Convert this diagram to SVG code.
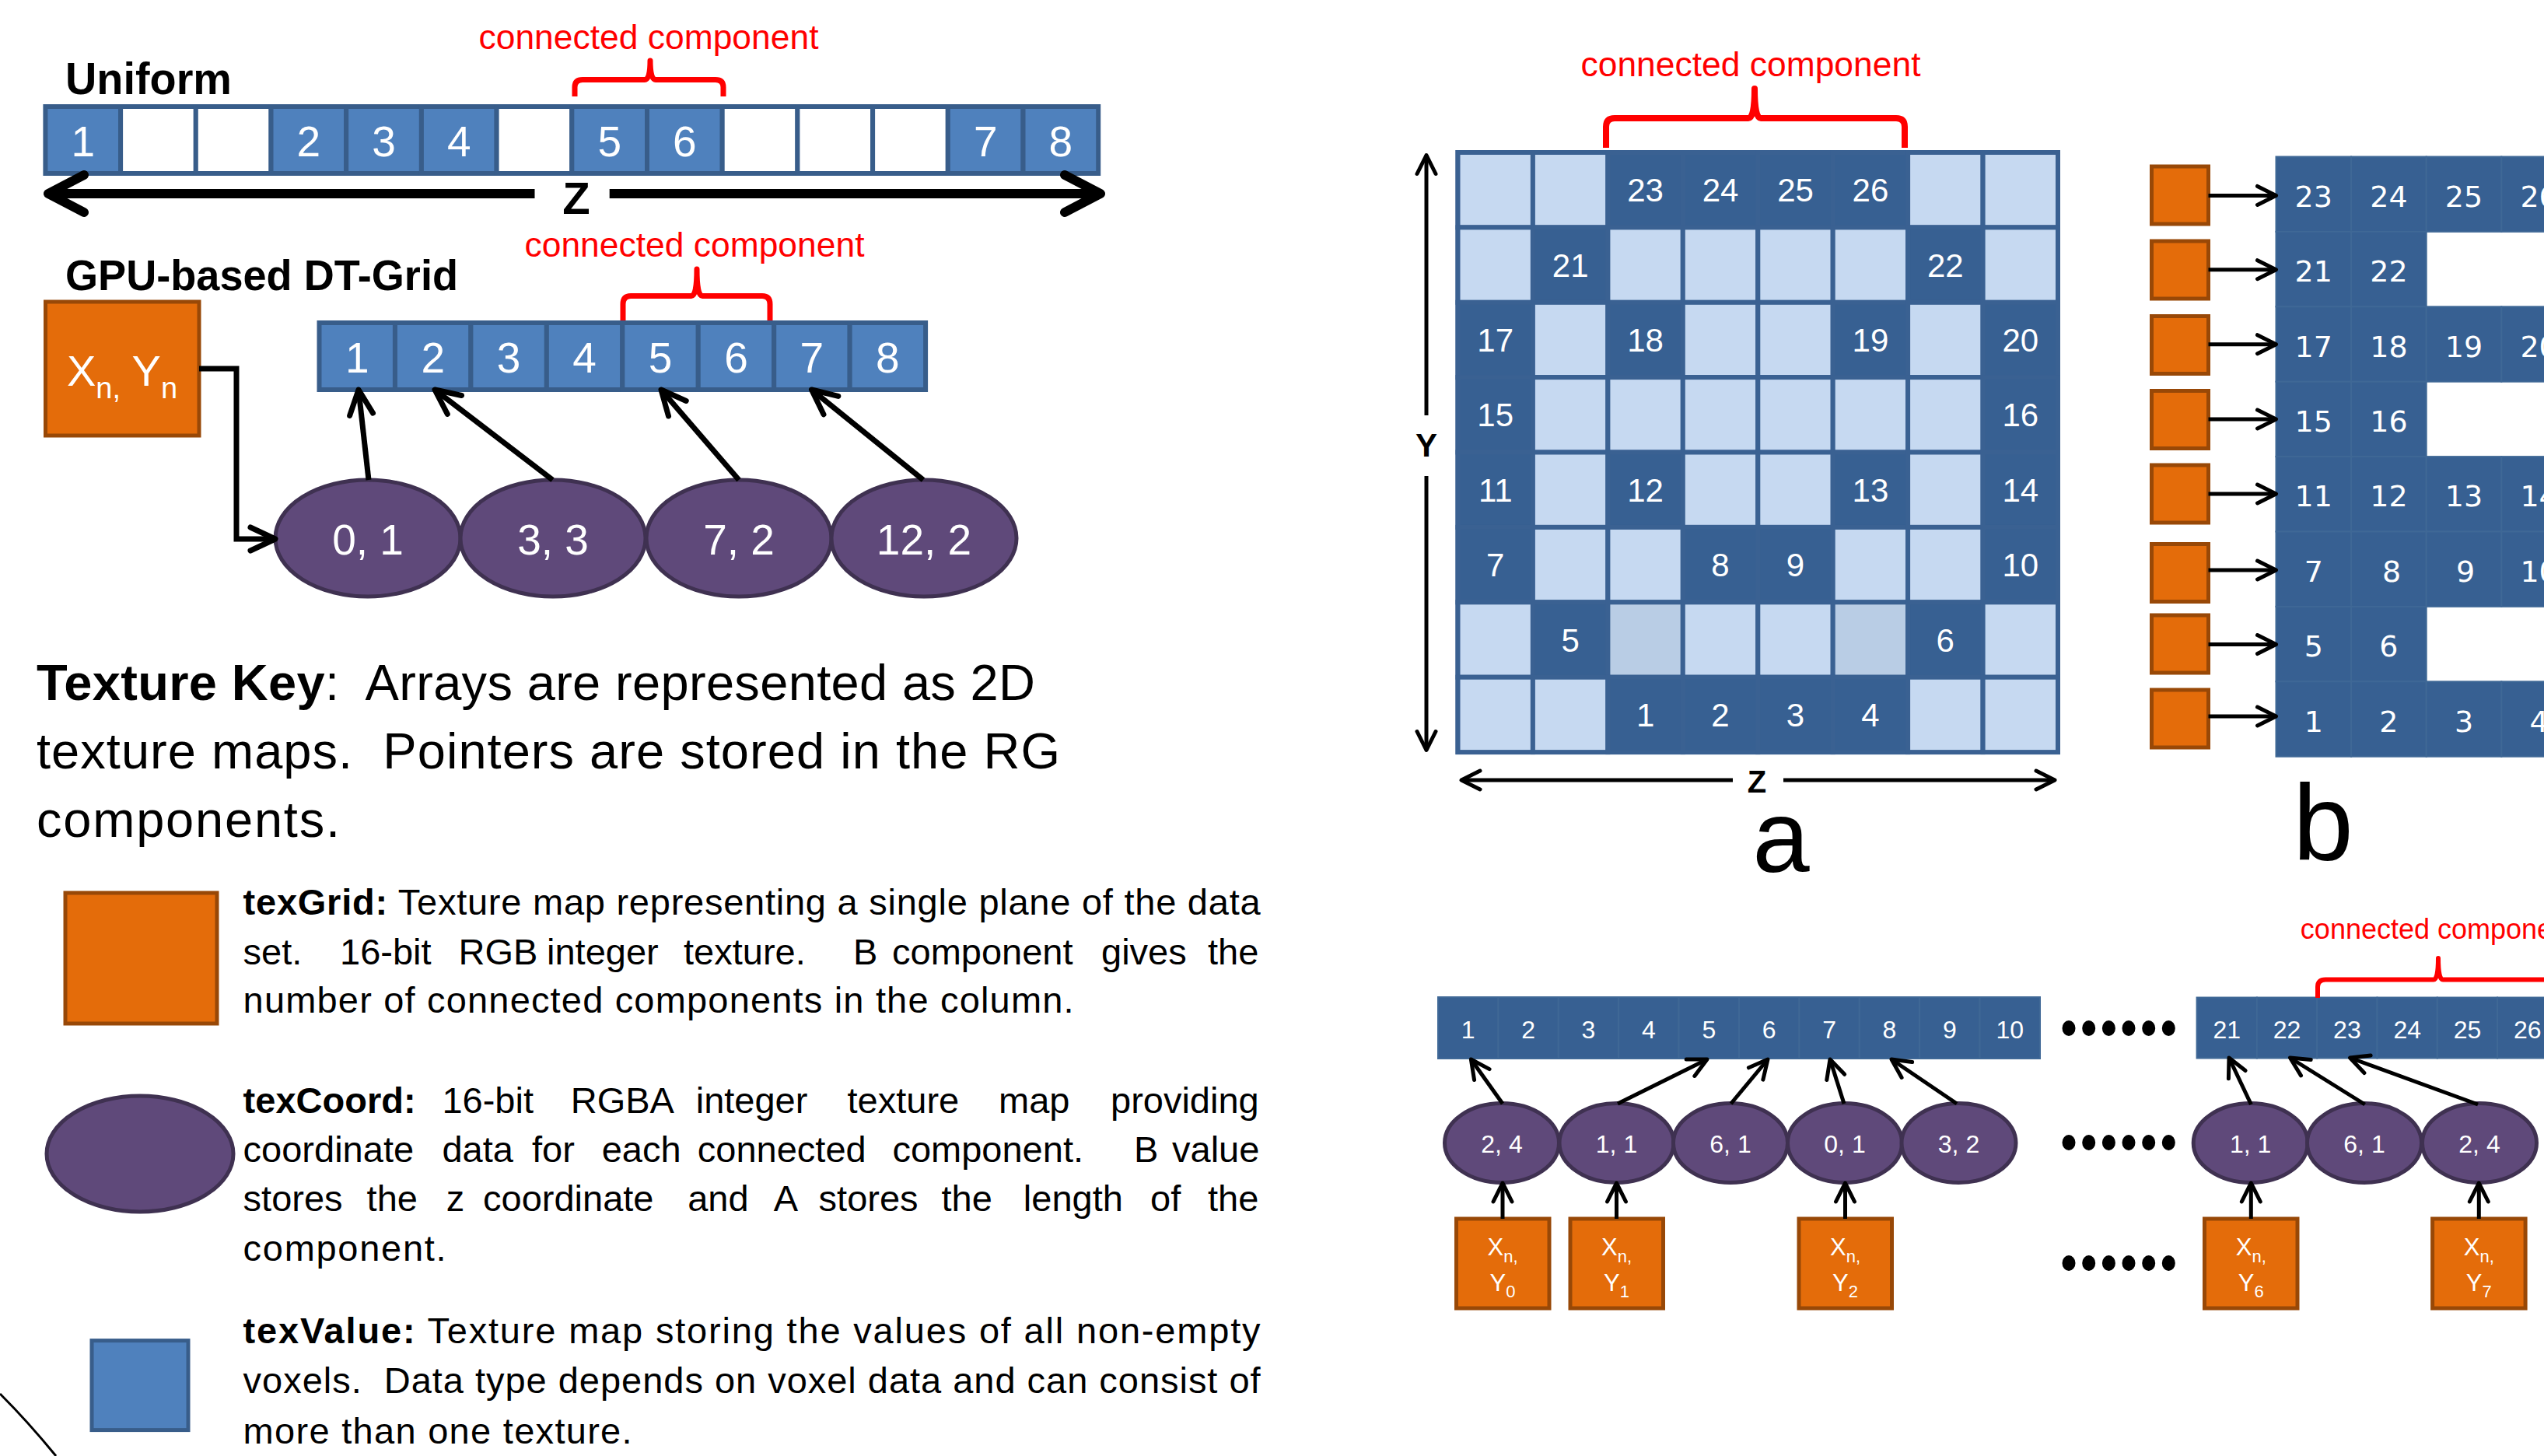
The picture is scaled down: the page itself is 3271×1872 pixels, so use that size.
<svg xmlns="http://www.w3.org/2000/svg" width="3271" height="1872" viewBox="0 0 3271 1872">
<defs>
<style>
text{font-family:'Liberation Sans',Arial,sans-serif}
.c{fill:#4F81BD;stroke:#385D8A;stroke-width:6}
.w{fill:#FFFFFF;stroke:#385D8A;stroke-width:6}
.gd{fill:#376092;stroke:#3A6192;stroke-width:6}
.gl{fill:#C6D9F1;stroke:#3A6192;stroke-width:6}
.gm{fill:#B9CDE5;stroke:#3A6192;stroke-width:6}
.dk{fill:#376092;stroke:#3F6896;stroke-width:2}
.or{fill:#E46C0A;stroke:#984807;stroke-width:5}
.pu{fill:#5F497A;stroke:#3F3151;stroke-width:5}
.br{fill:none;stroke:#FF0000;stroke-width:7;stroke-linejoin:round}
.rt{fill:#FF0000;text-anchor:middle}
.wt{fill:#FFFFFF;text-anchor:middle}
.bt{fill:#000000;text-anchor:middle;font-weight:bold}
.dv{font-family:'DejaVu Sans',sans-serif;fill:#FFFFFF;text-anchor:middle;font-size:38px}
.l7{fill:none;stroke:#000;stroke-width:7;marker-end:url(#m7)}
.l5{fill:none;stroke:#000;stroke-width:5;marker-end:url(#m5)}
.l12{fill:none;stroke:#000;stroke-width:12;marker-end:url(#m12)}
.tx{fill:#000000;font-size:47px}
</style>
<marker id="m7" markerUnits="userSpaceOnUse" orient="auto" overflow="visible" markerWidth="10" markerHeight="10"><path d="M-32,-15 L0,0 L-32,15" fill="none" stroke="#000" stroke-width="7" stroke-linecap="round" stroke-linejoin="round"/></marker>
<marker id="m5" markerUnits="userSpaceOnUse" orient="auto" overflow="visible" markerWidth="10" markerHeight="10"><path d="M-24,-12 L0,0 L-24,12" fill="none" stroke="#000" stroke-width="5" stroke-linecap="round" stroke-linejoin="round"/></marker>
<marker id="m12" markerUnits="userSpaceOnUse" orient="auto" overflow="visible" markerWidth="10" markerHeight="10"><path d="M-46,-24 L0,0 L-46,24" fill="none" stroke="#000" stroke-width="12" stroke-linecap="round" stroke-linejoin="round"/></marker>
</defs>
<rect x="0" y="0" width="3271" height="1872" fill="#FFFFFF"/>

<!-- ===== Uniform ===== -->
<text x="84" y="121" font-size="57" font-weight="bold" textLength="214" lengthAdjust="spacingAndGlyphs">Uniform</text>
<g id="uniform-bar">
<rect class="c" x="58.4" y="137" width="96.7" height="86"/>
<rect class="w" x="155.1" y="137" width="96.7" height="86"/>
<rect class="w" x="251.8" y="137" width="96.7" height="86"/>
<rect class="c" x="348.5" y="137" width="96.7" height="86"/>
<rect class="c" x="445.2" y="137" width="96.7" height="86"/>
<rect class="c" x="541.9" y="137" width="96.7" height="86"/>
<rect class="w" x="638.6" y="137" width="96.7" height="86"/>
<rect class="c" x="735.3" y="137" width="96.7" height="86"/>
<rect class="c" x="832" y="137" width="96.7" height="86"/>
<rect class="w" x="928.7" y="137" width="96.7" height="86"/>
<rect class="w" x="1025.4" y="137" width="96.7" height="86"/>
<rect class="w" x="1122.1" y="137" width="96.7" height="86"/>
<rect class="c" x="1218.8" y="137" width="96.7" height="86"/>
<rect class="c" x="1315.5" y="137" width="96.7" height="86"/>
<g font-size="55">
<text class="wt" x="106.8" y="201">1</text>
<text class="wt" x="396.9" y="201">2</text>
<text class="wt" x="493.6" y="201">3</text>
<text class="wt" x="590.3" y="201">4</text>
<text class="wt" x="783.7" y="201">5</text>
<text class="wt" x="880.4" y="201">6</text>
<text class="wt" x="1267.2" y="201">7</text>
<text class="wt" x="1363.9" y="201">8</text>
</g>
</g>
<g id="uniform-component">
<text class="rt" x="834" y="63" font-size="44" textLength="437" lengthAdjust="spacingAndGlyphs">connected component</text>
<path class="br" d="M739,124 V112 Q739,102.5 749,102.5 H829 Q836,102.5 836,78 Q836,102.5 843,102.5 H920 Q930,102.5 930,112 V124"/>
</g>
<g id="uniform-z-axis">
<path class="l12" d="M687.5,249 H62"/>
<path class="l12" d="M783.7,249 H1415"/>
<text class="bt" x="741" y="275" font-size="58">Z</text>
</g>

<!-- ===== GPU-based DT-Grid ===== -->
<text x="84" y="373" font-size="55" font-weight="bold" textLength="505" lengthAdjust="spacingAndGlyphs">GPU-based DT-Grid</text>
<g id="gpu-bar">
<rect class="c" x="410.5" y="415" width="97.45" height="86"/>
<rect class="c" x="507.95" y="415" width="97.45" height="86"/>
<rect class="c" x="605.4" y="415" width="97.45" height="86"/>
<rect class="c" x="702.85" y="415" width="97.45" height="86"/>
<rect class="c" x="800.3" y="415" width="97.45" height="86"/>
<rect class="c" x="897.75" y="415" width="97.45" height="86"/>
<rect class="c" x="995.2" y="415" width="97.45" height="86"/>
<rect class="c" x="1092.65" y="415" width="97.45" height="86"/>
<g font-size="55">
<text class="wt" x="459.2" y="479">1</text>
<text class="wt" x="556.7" y="479">2</text>
<text class="wt" x="654.1" y="479">3</text>
<text class="wt" x="751.6" y="479">4</text>
<text class="wt" x="849" y="479">5</text>
<text class="wt" x="946.5" y="479">6</text>
<text class="wt" x="1043.9" y="479">7</text>
<text class="wt" x="1141.4" y="479">8</text>
</g>
</g>
<g id="gpu-component">
<text class="rt" x="893" y="330" font-size="44" textLength="437" lengthAdjust="spacingAndGlyphs">connected component</text>
<path class="br" d="M801,412 V391 Q801,380.5 811,380.5 H889 Q896,380.5 896,346 Q896,380.5 903,380.5 H980 Q990,380.5 990,391 V412"/>
</g>
<g id="gpu-grid-cell">
<rect class="or" x="58.5" y="388" width="197.5" height="172"/>
<text class="wt" x="157" y="496" font-size="56">X<tspan font-size="38" dy="16">n,</tspan><tspan dy="-16"> Y</tspan><tspan font-size="38" dy="16">n</tspan></text>
</g>
<g id="coord-0-1"><ellipse class="pu" cx="473" cy="692" rx="119" ry="75"/><text class="wt" x="473" y="713" font-size="55">0, 1</text></g>
<g id="coord-3-3"><ellipse class="pu" cx="711" cy="692" rx="119" ry="75"/><text class="wt" x="711" y="713" font-size="55">3, 3</text></g>
<g id="coord-7-2"><ellipse class="pu" cx="950" cy="692" rx="119" ry="75"/><text class="wt" x="950" y="713" font-size="55">7, 2</text></g>
<g id="coord-12-2"><ellipse class="pu" cx="1188" cy="692" rx="119" ry="75"/><text class="wt" x="1188" y="713" font-size="55">12, 2</text></g>

<!-- ===== Texture key ===== -->
<g id="texture-key">
<text x="47" y="900" font-size="65" textLength="1284" lengthAdjust="spacing" xml:space="preserve"><tspan font-weight="bold">Texture Key</tspan>:  Arrays are represented as 2D</text>
<text x="47" y="987.5" font-size="65" textLength="1316" lengthAdjust="spacing" xml:space="preserve">texture maps.  Pointers are stored in the RG</text>
<text x="47" y="1076" font-size="65" textLength="390" lengthAdjust="spacing">components.</text>
</g>
<g id="key-texgrid">
<rect class="or" x="84" y="1148" width="195" height="168"/>
<text class="tx" x="312.6" y="1175.5" textLength="1308" lengthAdjust="spacing"><tspan font-weight="bold">texGrid:</tspan> Texture map representing a single plane of the data</text>
<text class="tx" y="1239.6"><tspan x="312.6">set.</tspan><tspan x="437">16-bit</tspan><tspan x="589.5">RGB</tspan><tspan x="703">integer</tspan><tspan x="879">texture.</tspan><tspan x="1097">B</tspan><tspan x="1147">component</tspan><tspan x="1416">gives</tspan><tspan x="1553">the</tspan></text>
<text class="tx" x="312.6" y="1302" textLength="1068" lengthAdjust="spacing">number of connected components in the column.</text>
</g>
<g id="key-texcoord">
<ellipse class="pu" cx="180" cy="1483.5" rx="120" ry="74.5"/>
<text class="tx" y="1431"><tspan x="312.6" font-weight="bold">texCoord:</tspan><tspan x="568.4">16-bit</tspan><tspan x="733.7">RGBA</tspan><tspan x="894.7">integer</tspan><tspan x="1089.5">texture</tspan><tspan x="1284">map</tspan><tspan x="1428">providing</tspan></text>
<text class="tx" y="1494"><tspan x="312.6">coordinate</tspan><tspan x="568.4">data</tspan><tspan x="684">for</tspan><tspan x="773.7">each</tspan><tspan x="896.8">connected</tspan><tspan x="1147.4">component.</tspan><tspan x="1457.9">B</tspan><tspan x="1507">value</tspan></text>
<text class="tx" y="1556.5"><tspan x="312.6">stores</tspan><tspan x="471.6">the</tspan><tspan x="573.7">z</tspan><tspan x="621">coordinate</tspan><tspan x="884.2">and</tspan><tspan x="994.7">A</tspan><tspan x="1052.6">stores</tspan><tspan x="1210.5">the</tspan><tspan x="1315.8">length</tspan><tspan x="1479">of</tspan><tspan x="1553">the</tspan></text>
<text class="tx" x="312.6" y="1620.5" textLength="261" lengthAdjust="spacing">component.</text>
</g>
<g id="key-texvalue">
<rect class="c" x="118" y="1723.6" width="124" height="115" style="stroke-width:5"/>
<text class="tx" x="312.6" y="1727" textLength="1308" lengthAdjust="spacing"><tspan font-weight="bold">texValue:</tspan> Texture map storing the values of all non-empty</text>
<text class="tx" x="312.6" y="1791" textLength="1308" lengthAdjust="spacing" xml:space="preserve">voxels.  Data type depends on voxel data and can consist of</text>
<text class="tx" x="312.6" y="1856" textLength="500" lengthAdjust="spacing">more than one texture.</text>
</g>
<path d="M0,1792 Q36,1828 72,1872" fill="none" stroke="#000" stroke-width="3"/>

<!-- ===== Grid a ===== -->
<g id="grid-a">
<rect x="1874.5" y="196" width="771.5" height="771" fill="#376092" stroke="#385D8A" stroke-width="6"/>
<rect class="gl" x="1874.5" y="196" width="96.4" height="96.4"/>
<rect class="gl" x="1970.9" y="196" width="96.4" height="96.4"/>
<rect class="gd" x="2067.4" y="196" width="96.4" height="96.4"/>
<rect class="gd" x="2163.8" y="196" width="96.4" height="96.4"/>
<rect class="gd" x="2260.3" y="196" width="96.4" height="96.4"/>
<rect class="gd" x="2356.7" y="196" width="96.4" height="96.4"/>
<rect class="gl" x="2453.1" y="196" width="96.4" height="96.4"/>
<rect class="gl" x="2549.6" y="196" width="96.4" height="96.4"/>
<rect class="gl" x="1874.5" y="292.4" width="96.4" height="96.4"/>
<rect class="gd" x="1970.9" y="292.4" width="96.4" height="96.4"/>
<rect class="gl" x="2067.4" y="292.4" width="96.4" height="96.4"/>
<rect class="gl" x="2163.8" y="292.4" width="96.4" height="96.4"/>
<rect class="gl" x="2260.3" y="292.4" width="96.4" height="96.4"/>
<rect class="gl" x="2356.7" y="292.4" width="96.4" height="96.4"/>
<rect class="gd" x="2453.1" y="292.4" width="96.4" height="96.4"/>
<rect class="gl" x="2549.6" y="292.4" width="96.4" height="96.4"/>
<rect class="gd" x="1874.5" y="388.8" width="96.4" height="96.4"/>
<rect class="gl" x="1970.9" y="388.8" width="96.4" height="96.4"/>
<rect class="gd" x="2067.4" y="388.8" width="96.4" height="96.4"/>
<rect class="gl" x="2163.8" y="388.8" width="96.4" height="96.4"/>
<rect class="gl" x="2260.3" y="388.8" width="96.4" height="96.4"/>
<rect class="gd" x="2356.7" y="388.8" width="96.4" height="96.4"/>
<rect class="gl" x="2453.1" y="388.8" width="96.4" height="96.4"/>
<rect class="gd" x="2549.6" y="388.8" width="96.4" height="96.4"/>
<rect class="gd" x="1874.5" y="485.1" width="96.4" height="96.4"/>
<rect class="gl" x="1970.9" y="485.1" width="96.4" height="96.4"/>
<rect class="gl" x="2067.4" y="485.1" width="96.4" height="96.4"/>
<rect class="gl" x="2163.8" y="485.1" width="96.4" height="96.4"/>
<rect class="gl" x="2260.3" y="485.1" width="96.4" height="96.4"/>
<rect class="gl" x="2356.7" y="485.1" width="96.4" height="96.4"/>
<rect class="gl" x="2453.1" y="485.1" width="96.4" height="96.4"/>
<rect class="gd" x="2549.6" y="485.1" width="96.4" height="96.4"/>
<rect class="gd" x="1874.5" y="581.5" width="96.4" height="96.4"/>
<rect class="gl" x="1970.9" y="581.5" width="96.4" height="96.4"/>
<rect class="gd" x="2067.4" y="581.5" width="96.4" height="96.4"/>
<rect class="gl" x="2163.8" y="581.5" width="96.4" height="96.4"/>
<rect class="gl" x="2260.3" y="581.5" width="96.4" height="96.4"/>
<rect class="gd" x="2356.7" y="581.5" width="96.4" height="96.4"/>
<rect class="gl" x="2453.1" y="581.5" width="96.4" height="96.4"/>
<rect class="gd" x="2549.6" y="581.5" width="96.4" height="96.4"/>
<rect class="gd" x="1874.5" y="677.9" width="96.4" height="96.4"/>
<rect class="gl" x="1970.9" y="677.9" width="96.4" height="96.4"/>
<rect class="gl" x="2067.4" y="677.9" width="96.4" height="96.4"/>
<rect class="gd" x="2163.8" y="677.9" width="96.4" height="96.4"/>
<rect class="gd" x="2260.3" y="677.9" width="96.4" height="96.4"/>
<rect class="gl" x="2356.7" y="677.9" width="96.4" height="96.4"/>
<rect class="gl" x="2453.1" y="677.9" width="96.4" height="96.4"/>
<rect class="gd" x="2549.6" y="677.9" width="96.4" height="96.4"/>
<rect class="gl" x="1874.5" y="774.3" width="96.4" height="96.4"/>
<rect class="gd" x="1970.9" y="774.3" width="96.4" height="96.4"/>
<rect class="gm" x="2067.4" y="774.3" width="96.4" height="96.4"/>
<rect class="gl" x="2163.8" y="774.3" width="96.4" height="96.4"/>
<rect class="gl" x="2260.3" y="774.3" width="96.4" height="96.4"/>
<rect class="gm" x="2356.7" y="774.3" width="96.4" height="96.4"/>
<rect class="gd" x="2453.1" y="774.3" width="96.4" height="96.4"/>
<rect class="gl" x="2549.6" y="774.3" width="96.4" height="96.4"/>
<rect class="gl" x="1874.5" y="870.7" width="96.4" height="96.4"/>
<rect class="gl" x="1970.9" y="870.7" width="96.4" height="96.4"/>
<rect class="gd" x="2067.4" y="870.7" width="96.4" height="96.4"/>
<rect class="gd" x="2163.8" y="870.7" width="96.4" height="96.4"/>
<rect class="gd" x="2260.3" y="870.7" width="96.4" height="96.4"/>
<rect class="gd" x="2356.7" y="870.7" width="96.4" height="96.4"/>
<rect class="gl" x="2453.1" y="870.7" width="96.4" height="96.4"/>
<rect class="gl" x="2549.6" y="870.7" width="96.4" height="96.4"/>
<g font-size="42">
<text class="wt" x="2115.6" y="259">23</text><text class="wt" x="2212" y="259">24</text><text class="wt" x="2308.5" y="259">25</text><text class="wt" x="2404.9" y="259">26</text>
<text class="wt" x="2019.2" y="356">21</text><text class="wt" x="2501.3" y="356">22</text>
<text class="wt" x="1922.7" y="452">17</text><text class="wt" x="2115.6" y="452">18</text><text class="wt" x="2404.9" y="452">19</text><text class="wt" x="2597.8" y="452">20</text>
<text class="wt" x="1922.7" y="548">15</text><text class="wt" x="2597.8" y="548">16</text>
<text class="wt" x="1922.7" y="645">11</text><text class="wt" x="2115.6" y="645">12</text><text class="wt" x="2404.9" y="645">13</text><text class="wt" x="2597.8" y="645">14</text>
<text class="wt" x="1922.7" y="741">7</text><text class="wt" x="2212" y="741">8</text><text class="wt" x="2308.5" y="741">9</text><text class="wt" x="2597.8" y="741">10</text>
<text class="wt" x="2019.2" y="838">5</text><text class="wt" x="2501.3" y="838">6</text>
<text class="wt" x="2115.6" y="934">1</text><text class="wt" x="2212" y="934">2</text><text class="wt" x="2308.5" y="934">3</text><text class="wt" x="2404.9" y="934">4</text>
</g>
</g>
<g id="grid-a-component">
<text class="rt" x="2251" y="97.5" font-size="44" textLength="437" lengthAdjust="spacingAndGlyphs">connected component</text>
<path class="br" style="stroke-width:8" d="M2065,190 V163 Q2065,152 2076,152 H2248 Q2256,152 2256,114 Q2256,152 2264,152 H2438 Q2449,152 2449,163 V190"/>
</g>
<g id="grid-a-axes">
<path class="l5" d="M1834,534 V199.5"/>
<path class="l5" d="M1834,612 V964.5"/>
<text class="bt" x="1834" y="587" font-size="42">Y</text>
<path class="l5" d="M2228,1003 H1879"/>
<path class="l5" d="M2293,1003 H2642"/>
<text class="bt" x="2259" y="1019" font-size="40">Z</text>
</g>
<text x="2290" y="1121" font-size="132" text-anchor="middle">a</text>

<!-- ===== Panel b ===== -->
<g id="panel-b">
<rect class="dk" x="2926.5" y="201.5" width="96.6" height="96.4"/><rect class="dk" x="3023.1" y="201.5" width="96.6" height="96.4"/><rect class="dk" x="3119.7" y="201.5" width="96.6" height="96.4"/><rect class="dk" x="3216.3" y="201.5" width="96.6" height="96.4"/>
<rect class="dk" x="2926.5" y="297.9" width="96.6" height="96.4"/><rect class="dk" x="3023.1" y="297.9" width="96.6" height="96.4"/>
<rect class="dk" x="2926.5" y="394.3" width="96.6" height="96.4"/><rect class="dk" x="3023.1" y="394.3" width="96.6" height="96.4"/><rect class="dk" x="3119.7" y="394.3" width="96.6" height="96.4"/><rect class="dk" x="3216.3" y="394.3" width="96.6" height="96.4"/>
<rect class="dk" x="2926.5" y="490.7" width="96.6" height="96.4"/><rect class="dk" x="3023.1" y="490.7" width="96.6" height="96.4"/>
<rect class="dk" x="2926.5" y="587.1" width="96.6" height="96.4"/><rect class="dk" x="3023.1" y="587.1" width="96.6" height="96.4"/><rect class="dk" x="3119.7" y="587.1" width="96.6" height="96.4"/><rect class="dk" x="3216.3" y="587.1" width="96.6" height="96.4"/>
<rect class="dk" x="2926.5" y="683.5" width="96.6" height="96.4"/><rect class="dk" x="3023.1" y="683.5" width="96.6" height="96.4"/><rect class="dk" x="3119.7" y="683.5" width="96.6" height="96.4"/><rect class="dk" x="3216.3" y="683.5" width="96.6" height="96.4"/>
<rect class="dk" x="2926.5" y="779.9" width="96.6" height="96.4"/><rect class="dk" x="3023.1" y="779.9" width="96.6" height="96.4"/>
<rect class="dk" x="2926.5" y="876.3" width="96.6" height="96.4"/><rect class="dk" x="3023.1" y="876.3" width="96.6" height="96.4"/><rect class="dk" x="3119.7" y="876.3" width="96.6" height="96.4"/><rect class="dk" x="3216.3" y="876.3" width="96.6" height="96.4"/>
<text class="dv" x="2974.8" y="265.7">23</text><text class="dv" x="3071.4" y="265.7">24</text><text class="dv" x="3168" y="265.7">25</text><text class="dv" x="3264.6" y="265.7">26</text>
<text class="dv" x="2974.8" y="362.1">21</text><text class="dv" x="3071.4" y="362.1">22</text>
<text class="dv" x="2974.8" y="458.5">17</text><text class="dv" x="3071.4" y="458.5">18</text><text class="dv" x="3168" y="458.5">19</text><text class="dv" x="3264.6" y="458.5">20</text>
<text class="dv" x="2974.8" y="554.9">15</text><text class="dv" x="3071.4" y="554.9">16</text>
<text class="dv" x="2974.8" y="651.3">11</text><text class="dv" x="3071.4" y="651.3">12</text><text class="dv" x="3168" y="651.3">13</text><text class="dv" x="3264.6" y="651.3">14</text>
<text class="dv" x="2974.8" y="747.7">7</text><text class="dv" x="3075" y="747.7">8</text><text class="dv" x="3170" y="747.7">9</text><text class="dv" x="3264.6" y="747.7">10</text>
<text class="dv" x="2974.8" y="844.1">5</text><text class="dv" x="3071.4" y="844.1">6</text>
<text class="dv" x="2974.8" y="940.5">1</text><text class="dv" x="3071.4" y="940.5">2</text><text class="dv" x="3168" y="940.5">3</text><text class="dv" x="3264.6" y="940.5">4</text>
</g>
<g id="panel-b-grid-cells">
<rect class="or" x="2766.5" y="214" width="73" height="74"/>
<rect class="or" x="2766.5" y="310" width="73" height="74"/>
<rect class="or" x="2766.5" y="406.5" width="73" height="74"/>
<rect class="or" x="2766.5" y="502.5" width="73" height="74"/>
<rect class="or" x="2766.5" y="598" width="73" height="74"/>
<rect class="or" x="2766.5" y="699.5" width="73" height="74"/>
<rect class="or" x="2766.5" y="791" width="73" height="74"/>
<rect class="or" x="2766.5" y="887" width="73" height="74"/>
</g>
<text x="2987" y="1106" font-size="140" text-anchor="middle">b</text>

<!-- ===== Bottom panel ===== -->
<g id="bottom-bar-left">
<rect class="dk" x="1849" y="1282" width="77.4" height="79"/><rect class="dk" x="1926.4" y="1282" width="77.4" height="79"/><rect class="dk" x="2003.8" y="1282" width="77.4" height="79"/><rect class="dk" x="2081.2" y="1282" width="77.4" height="79"/><rect class="dk" x="2158.6" y="1282" width="77.4" height="79"/><rect class="dk" x="2236" y="1282" width="77.4" height="79"/><rect class="dk" x="2313.4" y="1282" width="77.4" height="79"/><rect class="dk" x="2390.8" y="1282" width="77.4" height="79"/><rect class="dk" x="2468.2" y="1282" width="77.4" height="79"/><rect class="dk" x="2545.6" y="1282" width="77.4" height="79"/>
<g font-size="32">
<text class="wt" x="1887.7" y="1335">1</text><text class="wt" x="1965.1" y="1335">2</text><text class="wt" x="2042.5" y="1335">3</text><text class="wt" x="2119.9" y="1335">4</text><text class="wt" x="2197.3" y="1335">5</text><text class="wt" x="2274.7" y="1335">6</text><text class="wt" x="2352.1" y="1335">7</text><text class="wt" x="2429.5" y="1335">8</text><text class="wt" x="2506.9" y="1335">9</text><text class="wt" x="2584.3" y="1335">10</text>
</g>
</g>
<g id="bottom-bar-right">
<rect class="dk" x="2824.6" y="1282.5" width="77.3" height="78"/><rect class="dk" x="2901.9" y="1282.5" width="77.3" height="78"/><rect class="dk" x="2979.2" y="1282.5" width="77.3" height="78"/><rect class="dk" x="3056.5" y="1282.5" width="77.3" height="78"/><rect class="dk" x="3133.8" y="1282.5" width="77.3" height="78"/><rect class="dk" x="3211.1" y="1282.5" width="77.3" height="78"/>
<g font-size="32">
<text class="wt" x="2863.3" y="1335">21</text><text class="wt" x="2940.6" y="1335">22</text><text class="wt" x="3017.9" y="1335">23</text><text class="wt" x="3095.2" y="1335">24</text><text class="wt" x="3172.5" y="1335">25</text><text class="wt" x="3249.8" y="1335">26</text>
</g>
</g>
<g id="bottom-component">
<text class="rt" x="3135" y="1207" font-size="36">connected component</text>
<path class="br" style="stroke-width:6" d="M2980,1283 V1269 Q2980,1259.5 2990,1259.5 H3129 Q3135,1259.5 3135,1232 Q3135,1259.5 3141,1259.5 H3300"/>
</g>
<g id="ellipsis-dots" fill="#000">
<ellipse cx="2660" cy="1322" rx="8.5" ry="10"/><ellipse cx="2685.7" cy="1322" rx="8.5" ry="10"/><ellipse cx="2711.4" cy="1322" rx="8.5" ry="10"/><ellipse cx="2737" cy="1322" rx="8.5" ry="10"/><ellipse cx="2762.7" cy="1322" rx="8.5" ry="10"/><ellipse cx="2788.3" cy="1322" rx="8.5" ry="10"/>
<ellipse cx="2660" cy="1469" rx="8.5" ry="10"/><ellipse cx="2685.7" cy="1469" rx="8.5" ry="10"/><ellipse cx="2711.4" cy="1469" rx="8.5" ry="10"/><ellipse cx="2737" cy="1469" rx="8.5" ry="10"/><ellipse cx="2762.7" cy="1469" rx="8.5" ry="10"/><ellipse cx="2788.3" cy="1469" rx="8.5" ry="10"/>
<ellipse cx="2660" cy="1624" rx="8.5" ry="10"/><ellipse cx="2685.7" cy="1624" rx="8.5" ry="10"/><ellipse cx="2711.4" cy="1624" rx="8.5" ry="10"/><ellipse cx="2737" cy="1624" rx="8.5" ry="10"/><ellipse cx="2762.7" cy="1624" rx="8.5" ry="10"/><ellipse cx="2788.3" cy="1624" rx="8.5" ry="10"/>
</g>
<g font-size="32">
<g id="bc-2-4a"><ellipse class="pu" cx="1931" cy="1469.5" rx="73.5" ry="51"/><text class="wt" x="1931" y="1482">2, 4</text></g>
<g id="bc-1-1a"><ellipse class="pu" cx="2078.5" cy="1469.5" rx="73.5" ry="51"/><text class="wt" x="2078.5" y="1482">1, 1</text></g>
<g id="bc-6-1a"><ellipse class="pu" cx="2225" cy="1469.5" rx="73.5" ry="51"/><text class="wt" x="2225" y="1482">6, 1</text></g>
<g id="bc-0-1"><ellipse class="pu" cx="2372" cy="1469.5" rx="73.5" ry="51"/><text class="wt" x="2372" y="1482">0, 1</text></g>
<g id="bc-3-2"><ellipse class="pu" cx="2518.5" cy="1469.5" rx="73.5" ry="51"/><text class="wt" x="2518.5" y="1482">3, 2</text></g>
<g id="bc-1-1b"><ellipse class="pu" cx="2893.7" cy="1469.5" rx="73.5" ry="51"/><text class="wt" x="2893.7" y="1482">1, 1</text></g>
<g id="bc-6-1b"><ellipse class="pu" cx="3040" cy="1469.5" rx="73.5" ry="51"/><text class="wt" x="3040" y="1482">6, 1</text></g>
<g id="bc-2-4b"><ellipse class="pu" cx="3188" cy="1469.5" rx="73.5" ry="51"/><text class="wt" x="3188" y="1482">2, 4</text></g>
</g>
<g id="bg-y0"><rect class="or" x="1872.5" y="1567" width="119.5" height="115"/><text class="wt" x="1932" y="1614" font-size="31">X<tspan font-size="22" dy="9">n,</tspan></text><text class="wt" x="1932" y="1660" font-size="31">Y<tspan font-size="22" dy="8">0</tspan></text></g>
<g id="bg-y1"><rect class="or" x="2019" y="1567" width="119.5" height="115"/><text class="wt" x="2078.5" y="1614" font-size="31">X<tspan font-size="22" dy="9">n,</tspan></text><text class="wt" x="2078.5" y="1660" font-size="31">Y<tspan font-size="22" dy="8">1</tspan></text></g>
<g id="bg-y2"><rect class="or" x="2313" y="1567" width="119.5" height="115"/><text class="wt" x="2372.5" y="1614" font-size="31">X<tspan font-size="22" dy="9">n,</tspan></text><text class="wt" x="2372.5" y="1660" font-size="31">Y<tspan font-size="22" dy="8">2</tspan></text></g>
<g id="bg-y6"><rect class="or" x="2834.5" y="1567" width="119.5" height="115"/><text class="wt" x="2894.3" y="1614" font-size="31">X<tspan font-size="22" dy="9">n,</tspan></text><text class="wt" x="2894.3" y="1660" font-size="31">Y<tspan font-size="22" dy="8">6</tspan></text></g>
<g id="bg-y7"><rect class="or" x="3127.6" y="1567" width="119.5" height="115"/><text class="wt" x="3187.3" y="1614" font-size="31">X<tspan font-size="22" dy="9">n,</tspan></text><text class="wt" x="3187.3" y="1660" font-size="31">Y<tspan font-size="22" dy="8">7</tspan></text></g>

<!-- ===== Connectors ===== -->
<g id="connectors">
<path class="l7" d="M256,474 H304 V693 H354"/>
<path class="l7" d="M474,617 L461,501"/>
<path class="l7" d="M710.5,617 L559,501"/>
<path class="l7" d="M950,617 L850,501"/>
<path class="l7" d="M1187,617 L1043.5,501"/>
<path class="l5" d="M2839.5,251.4 H2926.5"/>
<path class="l5" d="M2839.5,346.7 H2926.5"/>
<path class="l5" d="M2839.5,442.7 H2926.5"/>
<path class="l5" d="M2839.5,539 H2926.5"/>
<path class="l5" d="M2839.5,635 H2926.5"/>
<path class="l5" d="M2839.5,733 H2926.5"/>
<path class="l5" d="M2839.5,828.6 H2926.5"/>
<path class="l5" d="M2839.5,921 H2926.5"/>
<path class="l5" d="M1932,1419 L1891.4,1362"/>
<path class="l5" d="M2080,1419 L2195,1362"/>
<path class="l5" d="M2225.6,1419 L2273,1362"/>
<path class="l5" d="M2371,1419 L2353,1362"/>
<path class="l5" d="M2516,1419 L2432,1362"/>
<path class="l5" d="M2894.4,1420 L2866,1360"/>
<path class="l5" d="M3040.7,1420 L2944.5,1360"/>
<path class="l5" d="M3186,1420 L3021.5,1360"/>
<path class="l5" d="M1932,1567 V1521"/>
<path class="l5" d="M2078.5,1567 V1521"/>
<path class="l5" d="M2372.5,1567 V1521"/>
<path class="l5" d="M2894.3,1567 V1521"/>
<path class="l5" d="M3187.3,1567 V1521"/>
</g>
</svg>
